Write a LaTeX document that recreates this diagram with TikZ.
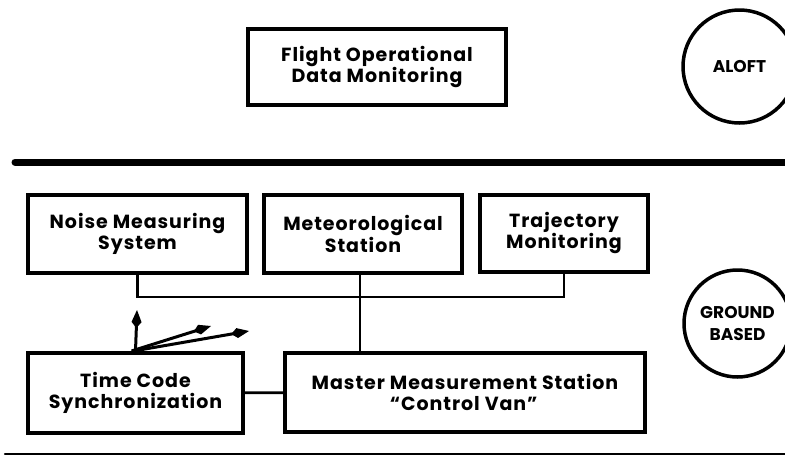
\documentclass[tikz,border=0pt]{standalone}
\usepackage{fontspec}
\setmainfont{Poppins}
\usetikzlibrary{arrows.meta}
\pgfdeclarelayer{edgelayer}
\pgfdeclarelayer{nodelayer}
\pgfsetlayers{edgelayer,nodelayer,main}
\tikzstyle{edge}=[draw=black, line width=2.8pt]
\tikzstyle{arrowedge}=[draw=black, line width=3pt, -{Kite[length=18pt,width=10pt,inset=6pt]}]
\tikzstyle{divider}=[draw=black, line cap=round]
\tikzstyle{block}=[rectangle, fill=white, draw=black, line width=4pt, align=center, inner sep=0pt, font=\bfseries\addfontfeatures{LetterSpace=5}\fontsize{19}{21.5}\selectfont]
\tikzstyle{zone}=[circle, fill=white, draw=black, line width=3.5pt, align=center, inner sep=0pt, font=\bfseries\fontsize{17}{22}\selectfont]

\begin{document}
\begin{tikzpicture}[x=10pt, y=-10pt]
\useasboundingbox (0,0) rectangle (78.5,46.4);
						\begin{pgfonlayer}{nodelayer}
							\node [style=block, minimum width=258pt, minimum height=76pt] (1) at (37.7, 6.7) {Flight Operational\\Data Monitoring};
							\node [style=block, minimum width=219pt, minimum height=78pt] (2) at (13.75, 23.4) {Noise Measuring\\System};
							\node [style=block, minimum width=198pt, minimum height=78pt] (3) at (36.3, 23.4) {Meteorological\\Station};
							\node [style=block, minimum width=168pt, minimum height=77pt] (4) at (56.4, 23.3) {Trajectory\\Monitoring};
							\node [style=block, minimum width=215pt, minimum height=80pt] (5) at (13.55, 39.3) {Time Code\\Synchronization};
							\node [style=block, minimum width=360pt, minimum height=79pt, align=left] (6) at (46.5, 39.25) {Master Measurement Station\\\phantom{Master }“Control Van”};
							\node [style=zone, minimum size=113pt] (7) at (73.95, 6.65) {ALOFT};
							\node [style=zone, minimum size=107pt] (8) at (73.75, 32.35) {GROUND\\BASED};
						\end{pgfonlayer}
						\begin{pgfonlayer}{edgelayer}
							\coordinate (9) at (36.0, 29.7);
							\coordinate (10) at (13.7, 31.0);
							\coordinate (11) at (21.1, 32.6);
							\coordinate (12) at (24.9, 33.1);
							\coordinate (13) at (1.5, 16.2);
							\coordinate (14) at (78.5, 16.2);
							\coordinate (15) at (0.5, 45.4);
							\coordinate (16) at (78.5, 45.4);
							\draw [style=edge] (2) |- (9) -| (4);
							\draw [style=edge] (9 |- 3.south) -- (9 |- 6.north);
							\draw [style=edge] (5) to (6);
							\draw [style=arrowedge] (5.north) to (10);
							\draw [style=arrowedge] ([xshift=-4pt]5.north) to (11);
							\draw [style=arrowedge] ([xshift=-2pt]5.north) to (12);
							\draw [style=divider, line width=7pt] (13) to (14);
							\draw [style=divider, line width=2.5pt] (15) to (16);
						\end{pgfonlayer}
					\end{tikzpicture}
\end{document}
